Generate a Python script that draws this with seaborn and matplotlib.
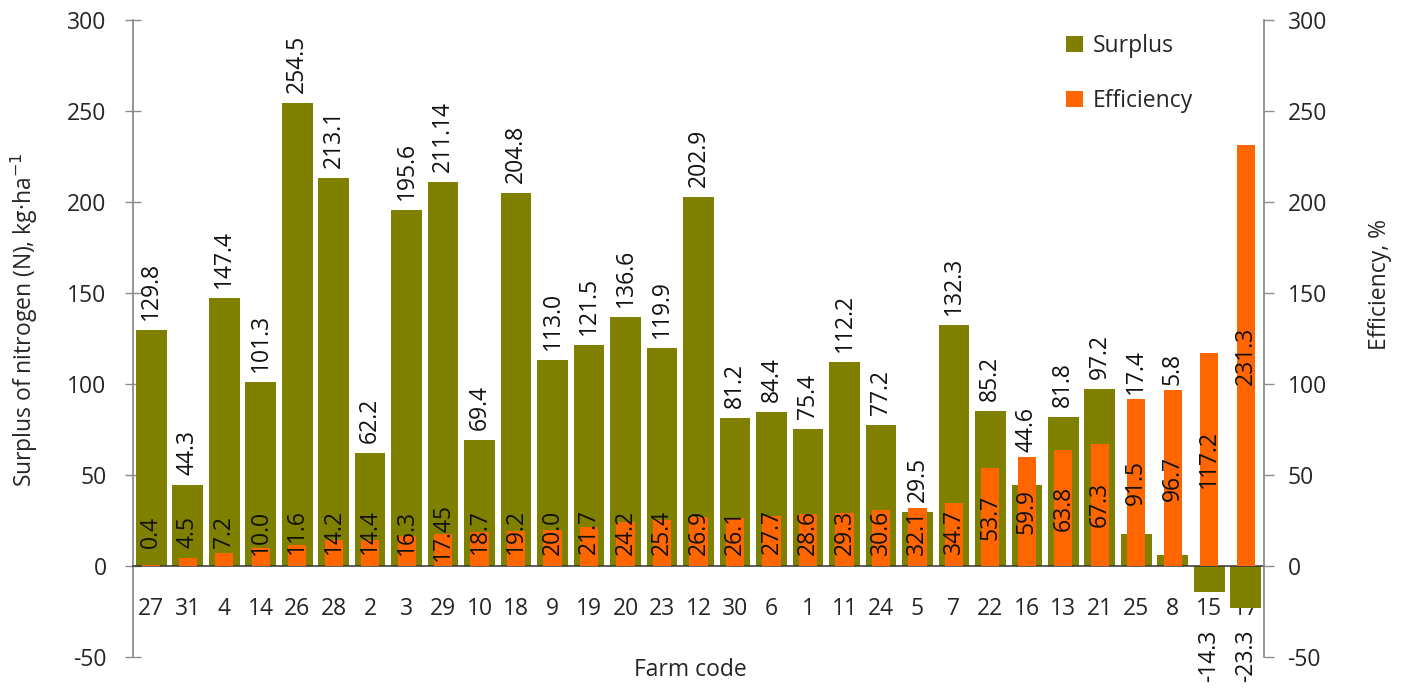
import numpy as np
import pandas as pd
import matplotlib
matplotlib.use("Agg")
import matplotlib.pyplot as plt
from matplotlib.patches import Patch
from matplotlib.ticker import FixedLocator
import seaborn as sns

# Farm codes in plotting order
farm_codes = ["27", "31", "4", "14", "26", "28", "2", "3", "29", "10", "18", "9",
              "19", "20", "23", "12", "30", "6", "1", "11", "24", "5", "7", "22",
              "16", "13", "21", "25", "8", "15", "17"]

# Nitrogen surplus, kg/ha
surplus = [129.8, 44.3, 147.4, 101.3, 254.5, 213.1, 62.2, 195.6, 211.14, 69.4,
           204.8, 113.0, 121.5, 136.6, 119.9, 202.9, 81.2, 84.4, 75.4, 112.2,
           77.2, 29.5, 132.3, 85.2, 44.6, 81.8, 97.2, 17.4, 5.8, -14.3, -23.3]

# Nitrogen use efficiency, %
efficiency = [0.4, 4.5, 7.2, 10.0, 11.6, 14.2, 14.4, 16.3, 17.45, 18.7, 19.2,
              20.0, 21.7, 24.2, 25.4, 26.9, 26.1, 27.7, 28.6, 29.3, 30.6, 32.1,
              34.7, 53.7, 59.9, 63.8, 67.3, 91.5, 96.7, 117.2, 231.3]

surplus_labels = ["129.8", "44.3", "147.4", "101.3", "254.5", "213.1", "62.2",
                  "195.6", "211.14", "69.4", "204.8", "113.0", "121.5", "136.6",
                  "119.9", "202.9", "81.2", "84.4", "75.4", "112.2", "77.2",
                  "29.5", "132.3", "85.2", "44.6", "81.8", "97.2", "17.4", "5.8",
                  "-14.3", "-23.3"]
efficiency_labels = ["0.4", "4.5", "7.2", "10.0", "11.6", "14.2", "14.4", "16.3",
                     "17.45", "18.7", "19.2", "20.0", "21.7", "24.2", "25.4",
                     "26.9", "26.1", "27.7", "28.6", "29.3", "30.6", "32.1",
                     "34.7", "53.7", "59.9", "63.8", "67.3", "91.5", "96.7",
                     "117.2", "231.3"]

OLIVE = "#7f7f00"
ORANGE = "#ff6600"
GREY = "#8c8c8c"

sns.set_style("white")
plt.rcParams["font.family"] = ["Open Sans", "DejaVu Sans"]
plt.rcParams["axes.unicode_minus"] = False
FS = 16.5

df = pd.DataFrame({"farm": farm_codes, "surplus": surplus, "efficiency": efficiency})

fig = plt.figure(figsize=(14.1, 6.9), dpi=100)
ax = fig.add_axes([133 / 1410, 1 - 657 / 690, (1264 - 133) / 1410, (657 - 20) / 690])
ax2 = ax.twinx()

sns.barplot(data=df, x="farm", y="surplus", order=farm_codes, color=OLIVE,
            saturation=1, width=0.84, ax=ax, errorbar=None, linewidth=0)
sns.barplot(data=df, x="farm", y="efficiency", order=farm_codes, color=ORANGE,
            saturation=1, width=0.5, ax=ax2, errorbar=None, linewidth=0)

n = len(farm_codes)
for a in (ax, ax2):
    a.set_xlim(-0.5, n - 0.5)
    a.set_ylim(-50, 300)
    a.set_yticks(np.arange(-50, 301, 50))
    a.set_facecolor("none")

# Spines
ax.spines["top"].set_visible(False)
ax2.spines["top"].set_visible(False)
ax.spines["right"].set_visible(False)
ax2.spines["left"].set_visible(False)
ax2.spines["bottom"].set_visible(False)
ax.spines["left"].set_color(GREY)
ax.spines["left"].set_linewidth(1.3)
ax2.spines["right"].set_color(GREY)
ax2.spines["right"].set_linewidth(1.3)
ax.spines["bottom"].set_position(("data", 0))
ax.spines["bottom"].set_color("#333333")
ax.spines["bottom"].set_linewidth(1.1)

# Category axis: labels at bar centres, small marks between categories
ax.set_xticks(np.arange(n))
ax.set_xticklabels(farm_codes, fontsize=FS)
ax.tick_params(axis="x", which="major", length=0, pad=22)
ax.xaxis.set_minor_locator(FixedLocator(np.arange(0.5, n - 0.5, 1.0)))
ax.tick_params(axis="x", which="minor", length=6, width=1, color="#7a74b0",
               direction="out")
ax2.tick_params(axis="x", which="both", bottom=False, top=False,
                labelbottom=False, labeltop=False)
ax2.set_xlabel("")

ax.tick_params(axis="y", which="major", direction="inout", length=12, width=1,
               color=GREY, labelsize=FS, pad=13, left=True)
ax2.tick_params(axis="y", which="major", direction="out", length=7, width=1,
                color=GREY, labelsize=FS, pad=10, right=True)

ax.set_xlabel("Farm code", fontsize=FS, va="top")
ax.xaxis.set_label_coords(0.493, -0.002)
ax.set_ylabel("Surplus of nitrogen (N), kg·ha$^{-1}$", fontsize=FS)
ax.yaxis.set_label_coords(-0.082, 0.53)
ax2.set_ylabel("Efficiency, %", fontsize=FS)
ax2.yaxis.set_label_coords(1.092, 0.585)

# Value labels: surplus above the taller of the two bars, efficiency inside
for i, (s, e) in enumerate(zip(surplus, efficiency)):
    if s >= 0:
        y = max(s + 5.5, e + 3.0)
        ax.text(i, y, surplus_labels[i], rotation=90, ha="center", va="bottom",
                fontsize=FS, color="#111111")
    else:
        ax.text(i, -35, surplus_labels[i], rotation=90, ha="center", va="top",
                fontsize=FS, color="#111111")
    ax2.text(i, max(e / 2, 18.7), efficiency_labels[i], rotation=90,
             ha="center", va="center", fontsize=FS, color="#111111")

handles = [Patch(facecolor=OLIVE, edgecolor="none", label="Surplus"),
           Patch(facecolor=ORANGE, edgecolor="none", label="Efficiency")]
ax2.legend(handles=handles, loc="upper left", frameon=False, fontsize=FS,
           bbox_to_anchor=(1066 / 1410, 1 - 34 / 690),
           bbox_transform=fig.transFigure, handlelength=0.75, handleheight=0.75,
           handletextpad=0.4, labelspacing=1.35, borderpad=0, borderaxespad=0)

fig.savefig("out.png", dpi=100, facecolor="white")
